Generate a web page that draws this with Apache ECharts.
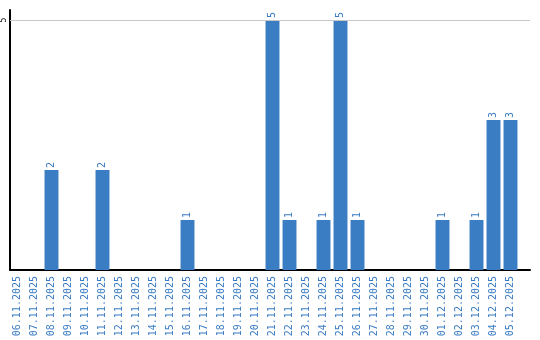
<!DOCTYPE html>
<html><head><meta charset="utf-8">
<script src="https://cdn.jsdelivr.net/npm/echarts@6/dist/echarts.min.js"></script>
<style>html,body{margin:0;padding:0;background:#fff}#c{width:540px;height:340px}</style>
</head><body><div id="c"></div>
<script>
const categories = ["06.11.2025","07.11.2025","08.11.2025","09.11.2025","10.11.2025","11.11.2025","12.11.2025","13.11.2025","14.11.2025","15.11.2025","16.11.2025","17.11.2025","18.11.2025","19.11.2025","20.11.2025","21.11.2025","22.11.2025","23.11.2025","24.11.2025","25.11.2025","26.11.2025","27.11.2025","28.11.2025","29.11.2025","30.11.2025","01.12.2025","02.12.2025","03.12.2025","04.12.2025","05.12.2025"];
const values = [0,0,2,0,0,2,0,0,0,0,1,0,0,0,0,5,1,0,1,5,1,0,0,0,0,1,0,1,3,3];
const yTicks = [5];
const yMax = 5.2;

const chart = echarts.init(document.getElementById('c'), null, {renderer:'canvas'});
chart.setOption({
  animation:false,
  grid:[
    {left:10, right:10, top:10, bottom:70},
    {left:9, right:21, top:10, bottom:70}
  ],
  xAxis:[
    {gridIndex:0, type:'value', min:0, max:1, axisLine:{show:true, onZero:false, lineStyle:{color:'#000', width:2}},
      axisTick:{show:false}, axisLabel:{show:false}, splitLine:{show:false}},
    {gridIndex:1, type:'category', data:categories,
      axisLine:{show:false}, axisTick:{show:false},
      axisLabel:{rotate:90, color:'#3a7cc4', fontSize:10, fontFamily:'DejaVu Sans Mono', margin:6, interval:0}}
  ],
  yAxis:[
    {gridIndex:0, type:'value', min:0, max:yMax, interval:5,
      axisLine:{show:true, lineStyle:{color:'#000', width:2}},
      axisTick:{show:false}, splitLine:{show:false},
      axisLabel:{rotate:90, color:'#000', fontSize:8, fontFamily:'DejaVu Sans Mono', margin:2,
        formatter:function(v){return yTicks.indexOf(v)>=0 ? String(v) : '';}}},
    {gridIndex:1, type:'value', min:0, max:yMax, show:false, splitLine:{show:false}}
  ],
  series:[
    {type:'line', xAxisIndex:0, yAxisIndex:0, data:[], silent:true,
      markLine:{silent:true, symbol:'none', label:{show:false}, animation:false,
        lineStyle:{color:'#c8c8c8', type:'solid', width:1},
        data: yTicks.map(t=>({yAxis:t}))}},
    {type:'bar', xAxisIndex:1, yAxisIndex:1, data:values.map(v=>v===0?null:v), barCategoryGap:'18%', z:1,
      itemStyle:{color:'#3b7dc3'},
      label:{show:true, position:'top', rotate:90, align:'left', verticalAlign:'middle', distance:2,
        color:'#3a7cc4', fontSize:10, fontFamily:'DejaVu Sans Mono'}}
  ]
});
</script></body></html>
